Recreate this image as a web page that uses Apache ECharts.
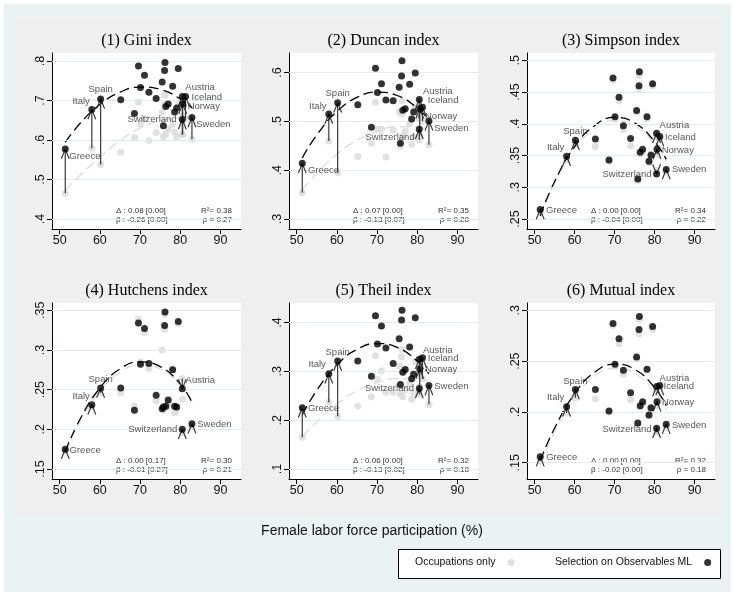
<!DOCTYPE html>
<html><head><meta charset="utf-8">
<script src="https://cdn.jsdelivr.net/npm/echarts@6/dist/echarts.min.js"></script>
<style>html,body{margin:0;padding:0;background:#fff}#c{width:735px;height:596px}</style>
</head><body><div id="c"></div>
<script>
// ---------------- DATA ----------------
const countries = ['Greece','Italy','Spain','Country 4','Country 5','Country 6','Country 7','Country 8','Country 9','Country 10','Country 11','Country 12','Country 13','Country 14','Country 15','Country 16','Country 17','Country 18','Country 19','Country 20','Austria','Iceland','Norway','Switzerland','Sweden'];
const femaleLFP = [51.4,58.0,60.2,65.2,68.6,69.6,70.1,71.1,72.2,74.0,75.5,75.8,76.2,76.1,76.4,77.0,78.1,78.6,79.1,79.5,80.5,81.3,80.6,80.5,82.9];

const titles = ['(1) Gini index','(2) Duncan index','(3) Simpson index','(4) Hutchens index','(5) Theil index','(6) Mutual index'];

// Selection on Observables ML
const mlGini    = [.577,.677,.704,.702,.667,.787,.733,.764,.721,.705,.747,.636,.796,.776,.685,.691,.736,.671,.681,.781,.710,.710,.691,.652,.657];
const mlDuncan  = [.414,.515,.538,.534,.488,.609,.559,.577,.544,.542,.570,.455,.624,.593,.523,.526,.576,.505,.519,.599,.545,.529,.526,.484,.501];
const mlSimpson = [.265,.349,.374,.376,.343,.472,.411,.442,.397,.377,.421,.313,.482,.460,.355,.360,.411,.341,.351,.463,.385,.380,.360,.321,.328];
const mlHutchens= [.175,.231,.252,.252,.224,.334,.282,.327,.283,.243,.226,.228,.348,.331,.229,.237,.275,.229,.228,.336,.251,null,null,.200,.207];
const mlTheil   = [.2255,.295,.321,.321,.290,.414,.356,.393,.348,.316,.367,.273,.425,.405,.298,.304,.350,.285,.294,.410,.325,.328,.305,.265,.271];
const mlMutual  = [.156,.205,.222,.222,.201,.287,.247,.272,.241,.219,.254,.189,.294,.281,.206,.210,.242,.197,.204,.284,.225,.226,.210,.184,.188];

// Occupations only
const occGini    = [.465,.579,.538,.569,.606,.696,.640,.655,.599,.619,.671,.608,.713,.690,.615,.628,.640,.620,.608,.690,.660,.655,.614,.614,.602];
const occDuncan  = [.354,.460,.395,.428,.455,.539,.484,.484,.427,.482,.520,.449,.542,.515,.470,.480,.495,.453,.468,.530,.505,.500,.470,.462,.452];
const occSimpson = [.261,.343,.367,.364,.341,.469,.407,.436,.391,.365,.418,.310,.476,.455,.352,.356,.408,.339,.348,.460,.380,.377,.352,.326,.324];
const occHutchens= [.172,.228,.246,.246,.229,.339,.285,.322,.277,.236,.300,.224,.345,.326,.227,.234,.276,.221,.225,.333,.264,null,.238,.196,.203];
const occTheil   = [.165,.236,.208,.229,.248,.332,.284,.301,.257,.257,.311,.253,.345,.330,.248,.262,.275,.243,.255,.320,.290,.285,.268,.253,.232];
const occMutual  = [.152,.199,.214,.213,.200,.285,.245,.267,.237,.212,.252,.188,.291,.277,.205,.208,.241,.196,.203,.281,.222,.224,.206,.180,.185];

// Quadratic fit lines
const fitX = [51.4,55,60,65,70,75,80,82.9];
const fitMlGini     = [.594,.641,.690,.721,.734,.728,.704,.681];
const fitOccGini    = [.473,.510,.556,.598,.630,.648,.655,.654];
const fitMlDuncan   = [.425,.472,.520,.549,.560,.553,.527,.503];
const fitOccDuncan  = [.359,.394,.433,.461,.480,.489,.488,.483];
const fitMlSimpson  = [.255,.309,.364,.397,.410,.4015,.372,.344];
const fitOccSimpson = [.252,.306,.360,.392,.405,.397,.368,.341];
const fitMlHutchens = [.172,.212,.252,.276,.285,.279,.257,.234];
const fitOccHutchens= [.169,.209,.248,.272,.281,.276,.256,.235];
const fitMlTheil    = [.211,.261,.313,.345,.357,.349,.321,.295];
const fitOccTheil   = [.166,.197,.233,.260,.277,.285,.284,.279];
const fitMlMutual   = [.152,.184,.218,.239,.247,.242,.224,.206];
const fitOccMutual  = [.148,.180,.214,.235,.243,.238,.220,.202];

// Tick labels
const xTicks = [50,60,70,80,90];
const yTicksGini = [.4,.5,.6,.7,.8];
const yTicksDuncan = [.3,.4,.5,.6];
const yTicksSimpson = [.25,.3,.35,.4,.45,.5];
const yTicksHutchens = [.15,.2,.25,.3,.35];
const yTicksTheil = [.1,.2,.3,.4];
const yTicksMutual = [.15,.2,.25,.3];

// Statistics text
const statDelta = ['0.08 [0.00]','0.07 [0.00]','0.00 [0.00]','0.00 [0.17]','0.06 [0.00]','0.00 [0.00]'];
const statBeta  = ['-0.26 [0.00]','-0.13 [0.07]','-0.04 [0.00]','-0.01 [0.27]','-0.13 [0.02]','-0.02 [0.00]'];
const statR2    = ['0.38','0.35','0.34','0.30','0.32','0.32'];
const statRho   = ['0.27','0.28','0.22','0.21','0.18','0.18'];

// ---------------- STYLE / LAYOUT ----------------
const SANS = '"Liberation Sans", Arial, Helvetica, sans-serif';
const SERIF = '"Liberation Serif", "Times New Roman", serif';
const gridLefts = [52, 289, 527];
const gridTops = [53, 303];
const gridW = 189, gridH = 176;
const xRange = [48.1, 95.1];
const yRanges = [[0.3747,0.8202],[0.2796,0.640],[0.2343,0.5115],[0.1374,0.3592],[0.0796,0.440],[0.134,0.3072]];

const labelOffsets = [
 {Greece:[4,7.5,'left'],Italy:[-2,-8.5,'right'],Spain:[0,-9.3,'center'],Austria:[3,-8.7,'left'],Iceland:[6,0.7,'left'],Norway:[5,2.3,'left'],Switzerland:[-5.7,0,'right'],Sweden:[4.3,7,'left']},
 {Greece:[5.7,7.3,'left'],Italy:[-2.3,-8,'right'],Spain:[0,-9.3,'center'],Austria:[3.7,-8.3,'left'],Iceland:[5.3,-6.7,'left'],Norway:[5.3,8,'left'],Switzerland:[-4.7,7.7,'right'],Sweden:[5.3,7.7,'left']},
 {Greece:[5.7,0.7,'left'],Italy:[-2.3,-8.7,'right'],Spain:[0,-9.3,'center'],Austria:[3,-8.3,'left'],Iceland:[5.3,0.7,'left'],Norway:[4.7,1.3,'left'],Switzerland:[-5,0.7,'right'],Sweden:[5.7,0,'left']},
 {Greece:[4.3,1,'left'],Italy:[-2,-8.3,'right'],Spain:[0,-9,'center'],Austria:[3.3,-8.3,'left'],Switzerland:[-5,0,'right'],Sweden:[5.3,0.7,'left']},
 {Greece:[5.7,0.7,'left'],Italy:[-3,-9.3,'right'],Spain:[0,-9,'center'],Austria:[3.7,-8.3,'left'],Iceland:[5.3,1,'left'],Norway:[5.3,0.3,'left'],Switzerland:[-5.3,0,'right'],Sweden:[5.3,0.7,'left']},
 {Greece:[6,0.7,'left'],Italy:[-2.3,-9,'right'],Spain:[0,-8.7,'center'],Austria:[3,-8.3,'left'],Iceland:[3.7,1,'left'],Norway:[5,0.7,'left'],Switzerland:[-5,0.7,'right'],Sweden:[5.7,1,'left']}
];

const panels = [
 {ml: mlGini, occ: occGini, fitMl: fitMlGini, fitOcc: fitOccGini, ticks: yTicksGini},
 {ml: mlDuncan, occ: occDuncan, fitMl: fitMlDuncan, fitOcc: fitOccDuncan, ticks: yTicksDuncan},
 {ml: mlSimpson, occ: occSimpson, fitMl: fitMlSimpson, fitOcc: fitOccSimpson, ticks: yTicksSimpson},
 {ml: mlHutchens, occ: occHutchens, fitMl: fitMlHutchens, fitOcc: fitOccHutchens, ticks: yTicksHutchens},
 {ml: mlTheil, occ: occTheil, fitMl: fitMlTheil, fitOcc: fitOccTheil, ticks: yTicksTheil},
 {ml: mlMutual, occ: occMutual, fitMl: fitMlMutual, fitOcc: fitOccMutual, ticks: yTicksMutual}
];

const GREY = '#d9d9d9';
const GRIDLINE = '#e4e9ea';

const grids = [], xAxes = [], yAxes = [], series = [], graphics = [];

graphics.push({type:'rect', z:-20, shape:{x:4,y:4,width:727,height:588}, style:{fill:'#eaf2f3'}});
graphics.push({type:'rect', z:-19, shape:{x:15,y:18,width:705,height:499}, style:{fill:'#efefef'}});
// legend box
graphics.push({type:'rect', z:-1, shape:{x:398.5,y:549.5,width:322,height:29}, style:{fill:'#fff', stroke:'#000', lineWidth:1}});

function arrowRender(params, api) {
  const x = api.value(0), y0 = api.value(1), y1 = api.value(2);
  const p0 = api.coord([x, y0]), p1 = api.coord([x, y1]);
  let dx = p1[0]-p0[0], dy = p1[1]-p0[1];
  let len = Math.hypot(dx, dy);
  let ux, uy;
  if (len < 0.5) { ux = 0; uy = -1; } else { ux = dx/len; uy = dy/len; }
  const L = 10.5, a = 22*Math.PI/180, c = Math.cos(a), s = Math.sin(a);
  const bx = -ux, by = -uy;
  const b1 = [p1[0] + L*(bx*c - by*s), p1[1] + L*(bx*s + by*c)];
  const b2 = [p1[0] + L*(bx*c + by*s), p1[1] + L*(-bx*s + by*c)];
  return {type:'group', children:[
    {type:'line', shape:{x1:p0[0],y1:p0[1],x2:p1[0],y2:p1[1]}, style:{stroke:'#3a3a3a', lineWidth:1.2}},
    {type:'polyline', shape:{points:[b1,p1,b2]}, style:{stroke:'#3a3a3a', lineWidth:1.2, fill:null}}
  ]};
}

panels.forEach((p, i) => {
  const row = Math.floor(i/3), col = i%3;
  const left = gridLefts[col], top = gridTops[row];
  const gw = (col===2?188:gridW);
  grids.push({left:left, top:top, width:gw, height:gridH, show:true, backgroundColor:'#fff', borderWidth:0, containLabel:false});
  xAxes.push({type:'value', gridIndex:i, min:xRange[0], max:xRange[1],
    axisLine:{show:true, onZero:false, lineStyle:{color:'#000', width:1}},
    axisTick:{show:true, length:5, customValues:xTicks, lineStyle:{color:'#000'}},
    axisLabel:{show:true, customValues:xTicks, margin:5, color:'#111', fontFamily:SANS, fontSize:12.5},
    splitLine:{show:false}});
  yAxes.push({type:'value', gridIndex:i, min:yRanges[i][0], max:yRanges[i][1],
    axisLine:{show:true, onZero:false, lineStyle:{color:'#000', width:1}},
    axisTick:{show:true, length:5, customValues:p.ticks, lineStyle:{color:'#000'}},
    axisLabel:{show:true, customValues:p.ticks, rotate:90, margin:5, color:'#111', fontFamily:SANS, fontSize:12.5,
      formatter: v => String(+v.toFixed(3)).replace(/^0/, '').replace(/^-0/, '-')},
    splitLine:{show:false}});

  series.push({type:'line', name:'grid'+i, xAxisIndex:i, yAxisIndex:i, data:[], z:1, silent:true,
    markLine:{silent:true, symbol:'none', animation:false, label:{show:false},
      lineStyle:{color:GRIDLINE, width:1.2, type:'solid'}, data:p.ticks.map(v => ({yAxis:v}))}});

  const occData = [], mlData = [];
  femaleLFP.forEach((x, k) => {
    if (p.occ[k] != null) occData.push([x, p.occ[k]]);
    if (p.ml[k] != null) mlData.push([x, p.ml[k]]);
  });

  series.push({type:'scatter', name:'Occupations only', xAxisIndex:i, yAxisIndex:i, data:occData,
    symbol:'circle', symbolSize:7, itemStyle:{color:GREY}, z:2, animation:false});
  series.push({type:'line', name:'fitOcc'+i, xAxisIndex:i, yAxisIndex:i, data:fitX.map((x,k)=>[x,p.fitOcc[k]]),
    smooth:true, symbol:'none', lineStyle:{color:'#dcdcdc', width:1.3, type:[10,5]}, z:3, animation:false, silent:true});
  series.push({type:'line', name:'fitMl'+i, xAxisIndex:i, yAxisIndex:i, data:fitX.map((x,k)=>[x,p.fitMl[k]]),
    smooth:true, symbol:'none', lineStyle:{color:'#000', width:1.3, type:[10,5]}, z:4, animation:false, silent:true});

  const offs = labelOffsets[i];
  const arrowData = [], labelData = [];
  countries.forEach((name, k) => {
    if (offs[name] && p.ml[k] != null && p.occ[k] != null) {
      arrowData.push([femaleLFP[k], p.occ[k], p.ml[k]]);
      const o = offs[name];
      labelData.push({name:name, value:[femaleLFP[k], p.ml[k]],
        label:{show:true, position:'inside', align:o[2], verticalAlign:'middle', offset:[o[0], o[1]], formatter:name}});
    }
  });
  series.push({type:'custom', name:'arrows'+i, xAxisIndex:i, yAxisIndex:i, data:arrowData,
    encode:{x:0, y:[1,2]}, renderItem:arrowRender, z:5, animation:false, silent:true});
  series.push({type:'scatter', name:'Selection on Observables ML', xAxisIndex:i, yAxisIndex:i, data:mlData,
    symbol:'circle', symbolSize:7, itemStyle:{color:'#000'}, z:6, animation:false});
  series.push({type:'scatter', name:'labels'+i, xAxisIndex:i, yAxisIndex:i, data:labelData,
    symbol:'circle', symbolSize:1, itemStyle:{color:'rgba(0,0,0,0)'}, z:7, animation:false, silent:true,
    label:{show:true, color:'#2a2a2a', fontFamily:SANS, fontSize:9.5}});

  graphics.push({type:'text', x:left+gw/2, y:top-12, style:{text:titles[i], font:'16px '+SERIF, fill:'#000', textAlign:'center', textVerticalAlign:'middle'}});
  graphics.push({type:'text', x:left+64, y:top+158, style:{text:'\u0394 : '+statDelta[i], font:'8px '+SANS, fill:'#333', textAlign:'left', textVerticalAlign:'middle'}});
  graphics.push({type:'text', x:left+64, y:top+167, style:{text:'\u03b2 : '+statBeta[i], font:'8px '+SANS, fill:'#333', textAlign:'left', textVerticalAlign:'middle'}});
  graphics.push({type:'text', x:left+gw-9, y:top+158, style:{text:'R\u00b2= '+statR2[i], font:'8px '+SANS, fill:'#333', textAlign:'right', textVerticalAlign:'middle'}});
  graphics.push({type:'text', x:left+gw-9, y:top+167, style:{text:'\u03c1 = '+statRho[i], font:'8px '+SANS, fill:'#333', textAlign:'right', textVerticalAlign:'middle'}});
});

graphics.push({type:'text', x:372, y:531, style:{text:'Female labor force participation (%)', font:'14px '+SANS, fill:'#111', textAlign:'center', textVerticalAlign:'middle'}});

const legendCommon = {show:true, orient:'horizontal', align:'right', icon:'circle', itemWidth:21, itemHeight:7,
  selectedMode:false, padding:0, textStyle:{fontFamily:SANS, fontSize:10.5, color:'#111'}};
const option = {
  animation:false,
  backgroundColor:'#fff',
  grid:grids, xAxis:xAxes, yAxis:yAxes, series:series, graphic:graphics,
  legend:[
    Object.assign({}, legendCommon, {data:['Occupations only'], left:415, top:557}),
    Object.assign({}, legendCommon, {data:['Selection on Observables ML'], left:555, top:557})
  ]
};
const chart = echarts.init(document.getElementById('c'));
chart.setOption(option);
</script>
</body></html>
